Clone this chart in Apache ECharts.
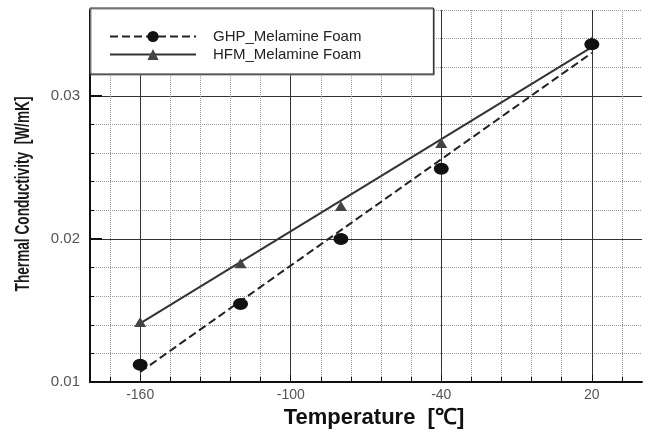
<!DOCTYPE html>
<html>
<head>
<meta charset="utf-8">
<script src="https://cdn.jsdelivr.net/npm/echarts@6/dist/echarts.min.js"></script>
<style>
    html, body { margin: 0; padding: 0; background: #fff; }
    #main { width: 649px; height: 434px; }
</style>
</head>
<body>
<div id="main"></div>
<script>
// 测量点
var temps = [-160, -120, -80, -40, 20];
var ghpK = [0.0112, 0.01545, 0.0200, 0.0249, 0.0336];
var hfmK = [0.0142, 0.0183, 0.0223, 0.0267, 0.0338];
// 拟合直线（端点读自原图）
var fitTemps = [-160, 20];
var ghpFit = [0.0107, 0.0330];
var hfmFit = [0.0141, 0.0334];
// 刻度
var xMajor = [-160, -100, -40, 20];
var xMinor = [-172, -148, -136, -124, -112, -88, -76, -64, -52, -28, -16, -4, 8, 32];
var yMajor = [0.01, 0.02, 0.03];
var yMinor = [0.012, 0.014, 0.016, 0.018, 0.022, 0.024, 0.026, 0.028, 0.032, 0.034, 0.036];

function pairs(xs, ys) {
    return xs.map(function (x, i) { return [x, ys[i]]; });
}

var font = "'Liberation Sans', Arial, sans-serif";
var chart = echarts.init(document.getElementById('main'));
chart.setOption({
    backgroundColor: '#fff',
    animation: false,
    grid: { left: 90, right: 7, top: 10, bottom: 49 },
    legend: {
        orient: 'vertical',
        left: 90,
        top: 8,
        data: ['GHP_Melamine Foam', 'HFM_Melamine Foam'],
        itemWidth: 86,
        itemHeight: 14,
        itemGap: 3,
        selectedMode: false,
        padding: [21, 72, 12, 19],
        backgroundColor: '#fff',
        borderColor: '#222',
        borderWidth: 1,
        shadowColor: '#888',
        shadowBlur: 0,
        shadowOffsetX: 1,
        shadowOffsetY: 1,
        textStyle: { fontSize: 15, color: '#222', fontFamily: font, padding: [0, 0, 0, 12] }
    },
    // 纵轴标题（窄体）
    graphic: [{
        type: 'text',
        x: 23,
        y: 194,
        rotation: Math.PI / 2,
        scaleX: 0.65,
        style: {
            text: 'Thermal Conductivity  [W/mK]',
            font: "bold 21px 'Liberation Sans', Arial, sans-serif",
            fill: '#1a1a1a',
            align: 'center',
            verticalAlign: 'middle'
        }
    }],
    xAxis: [{
        type: 'value',
        min: -180,
        max: 40,
        axisLine: { show: true, onZero: false, lineStyle: { color: '#111', width: 2 } },
        axisTick: { show: true, inside: true, length: 5, customValues: xMinor, lineStyle: { color: '#111' } },
        axisLabel: { show: false },
        splitLine: { show: true, lineStyle: { color: '#999', type: 'dotted', width: 1 } }
    }, {
        type: 'value',
        position: 'bottom',
        min: -180,
        max: 40,
        axisLine: { show: false, onZero: false },
        axisTick: { show: true, inside: true, length: 7, customValues: xMajor, lineStyle: { color: '#111' } },
        axisLabel: { customValues: xMajor, margin: 6, fontSize: 14, color: '#555', fontFamily: font },
        splitLine: { show: true, lineStyle: { color: '#333', width: 1 } },
        name: 'Temperature  [℃]',
        nameLocation: 'middle',
        nameGap: 25,
        nameTextStyle: { fontSize: 22, fontWeight: 'bold', color: '#111', fontFamily: font, padding: [0, 0, 0, 16] }
    }],
    yAxis: [{
        type: 'value',
        min: 0.01,
        max: 0.036,
        axisLine: { show: true, onZero: false, lineStyle: { color: '#111', width: 2 } },
        axisTick: { show: true, inside: true, length: 4, customValues: yMinor, lineStyle: { color: '#111' } },
        axisLabel: { show: false },
        splitLine: { show: true, lineStyle: { color: '#999', type: 'dotted', width: 1 } }
    }, {
        type: 'value',
        position: 'left',
        min: 0.01,
        max: 0.036,
        axisLine: { show: false, onZero: false },
        axisTick: { show: true, inside: true, length: 12, customValues: yMajor, lineStyle: { color: '#111', width: 2 } },
        axisLabel: { customValues: yMajor, margin: 10, fontSize: 15, color: '#555', fontFamily: font },
        splitLine: { show: true, lineStyle: { color: '#333', width: 1 } }
    }],
    series: [{
        name: 'GHP_Melamine Foam',
        type: 'line',
        data: pairs(fitTemps, ghpFit),
        symbol: 'circle',
        showSymbol: false,
        itemStyle: { color: '#111' },
        lineStyle: { color: '#222', width: 2, type: [8, 4] },
        z: 3
    }, {
        name: 'HFM_Melamine Foam',
        type: 'line',
        data: pairs(fitTemps, hfmFit),
        symbol: 'triangle',
        showSymbol: false,
        itemStyle: { color: '#444' },
        lineStyle: { color: '#333', width: 2 },
        z: 3
    }, {
        name: 'HFM_Melamine Foam',
        type: 'scatter',
        data: pairs(temps, hfmK),
        symbol: 'triangle',
        symbolSize: [12, 10],
        itemStyle: { color: '#444', opacity: 1 },
        z: 4
    }, {
        name: 'GHP_Melamine Foam',
        type: 'scatter',
        data: pairs(temps, ghpK),
        symbol: 'circle',
        symbolSize: [15, 12],
        itemStyle: { color: '#111', opacity: 1 },
        z: 5
    }]
});
</script>
</body>
</html>
